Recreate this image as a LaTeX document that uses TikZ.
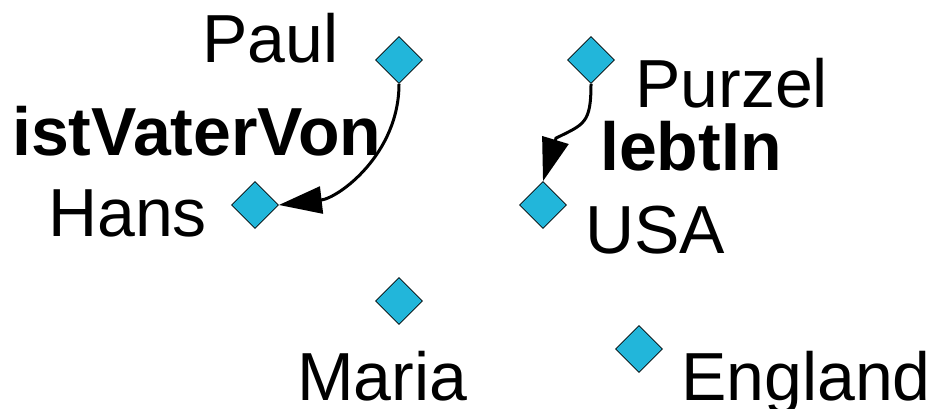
\documentclass[tikz,border=0pt]{standalone}
\usepackage{fontspec}
\setmainfont{Liberation Sans}
\usetikzlibrary{shapes.geometric,arrows.meta,calc}
\definecolor{instfill}{RGB}{34,182,218}
\begin{document}
\begin{tikzpicture}[x=1pt,y=-1pt,
  inst/.style={diamond,draw=black,line width=0.7pt,fill=instfill,
    minimum width=47pt,minimum height=47pt,inner sep=0pt},
  lbl/.style={anchor=base west,inner sep=0pt,
    font=\fontsize{68}{80}\selectfont},
  rel/.style={lbl,font=\fontsize{68}{80}\selectfont\bfseries},
  link/.style={line width=3pt,-{Triangle[length=43pt,width=27pt]}}]
\useasboundingbox (0,0) rectangle (936,409);

% instances
\node[inst] (paul)    at (399,60)  {};
\node[inst] (hans)    at (255,205) {};
\node[inst] (purzel)  at (591,60)  {};
\node[inst] (usa)     at (543,205) {};
\node[inst] (maria)   at (399,301) {};
\node[inst] (england) at (639,349) {};

% instance names
\node[lbl] (tpaul)    at (202,63)  {Paul};
\node[lbl] (thans)    at (48,236)  {Hans};
\node[lbl] (tpurzel)  at (635,108) {Purzel};
\node[lbl] (tusa)     at (585,253) {USA};
\node[lbl] (tmaria)   at (297,400) {Maria};
\node[lbl] (tengland) at (681,400) {England};

% relation names
\node[rel] (tvater) at (12,155)  {istVaterVon};
\node[rel] (tlebt)  at (600,170) {lebtIn};

% relations
\draw[link] (paul.south) .. controls +(0,70) and +(60,-7) .. (hans.east);
\draw[link] (purzel.south) .. controls +(0,40) and +(28,-14)
  .. ($(usa.north)+(13,-43)$) -- (usa.north);
\end{tikzpicture}
\end{document}
